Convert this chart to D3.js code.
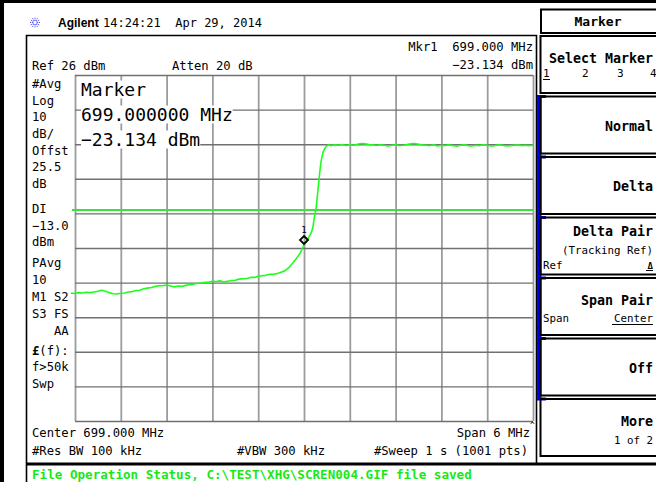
<!DOCTYPE html>
<html>
<head>
<meta charset="utf-8">
<script src="https://cdn.jsdelivr.net/npm/d3@7"></script>
<style>
  html, body { margin: 0; padding: 0; background: #fff; }
  svg { display: block; }
  text { font-family: "DejaVu Sans Mono", "Liberation Mono", monospace; fill: #000; }
</style>
</head>
<body>
<svg id="screen" width="656" height="482"></svg>
<script>
// ---- instrument settings ----
const centerMHz = 699.0;
const spanMHz = 6.0;
const refLevelDbm = 26;
const dbPerDiv = 10;
const vDivs = 10;
const hDivs = 10;
const displayLineDbm = -13.0;
const markerMHz = 699.000;
const markerDbm = -23.134;

// ---- averaged trace (dBm) ----
// lower band: 696.00 .. 699.00 MHz, 0.05 MHz apart
const bandStepMHz = 0.05;
const lowBandStartMHz = 696.00;
const lowBandDbm = [
  -37.1, -36.9, -37.0, -36.8, -36.9, -36.7, -36.5, -36.2, -36.5, -36.9,
  -37.2, -37.3, -37.1, -37.0, -36.7, -36.6, -36.3, -36.2, -35.8, -35.6,
  -35.4, -35.1, -34.9, -34.9, -34.7, -35.0, -35.2, -35.0, -35.1, -34.8,
  -34.6, -34.5, -34.2, -34.1, -33.9, -33.9, -33.6, -33.7, -33.5, -33.8,
  -33.6, -33.4, -33.3, -33.0, -32.9, -32.8, -32.5, -32.5, -32.2, -32.0,
  -31.9, -31.6, -31.6, -31.4, -31.0, -30.6, -29.7, -28.4, -27.0, -25.5,
  -23.134
];
// band edge
const edgeMHz = [699.02, 699.04, 699.06, 699.08, 699.10, 699.12, 699.13, 699.145,
                 699.16, 699.175, 699.19, 699.205, 699.22, 699.235, 699.25, 699.27,
                 699.29, 699.31, 699.33];
const edgeDbm = [-22.5, -21.9, -21.0, -20.2, -19.3, -17.6, -15.9, -14.0,
                 -12.2, -9.0, -5.8, -2.4, 0.5, 2.3, 3.7, 4.7,
                 5.3, 5.7, 5.8];
// upper band: 699.35 .. 702.00 MHz, 0.05 MHz apart
const highBandStartMHz = 699.35;
const highBandDbm = [
  5.6, 5.8, 5.7, 5.9, 5.6, 5.8, 5.7, 6.0, 6.2, 6.1,
  5.9, 5.8, 5.6, 5.8, 5.7, 5.5, 5.7, 5.8, 5.6, 5.7,
  5.9, 6.1, 6.2, 6.0, 5.8, 5.7, 5.6, 5.8, 5.5, 5.7,
  5.6, 5.8, 5.6, 5.4, 5.7, 5.8, 5.6, 5.5, 5.7, 5.6,
  5.8, 5.7, 5.5, 5.6, 5.8, 5.7, 5.5, 5.6, 5.7, 5.8,
  5.6, 5.7, 5.6, 5.7
];

// ---- annotation texts ----
const headerTime = "14:24:21  Apr 29, 2014";
const leftPanel = [
  "#Avg", "Log", "10", "dB/", "Offst", "25.5", "dB",
  "DI", "\u221213.0", "dBm",
  "PAvg", "10", "M1 S2", "S3 FS", "   AA", "(f):", "f>50k", "Swp"
];
const softkeys = [
  { title: "Select Marker" },
  { title: "Normal" },
  { title: "Delta" },
  { title: "Delta Pair", sub: "(Tracking Ref)" },
  { title: "Span Pair" },
  { title: "Off" },
  { title: "More", sub: "1 of 2" }
];
const statusLine = "File Operation Status, C:\\TEST\\XHG\\SCREN004.GIF file saved";

// ---- layout ----
const svg = d3.select("#screen");
const G = { left: 75, right: 533, top: 75, bottom: 421 };

const x = d3.scaleLinear()
  .domain([centerMHz - spanMHz / 2, centerMHz + spanMHz / 2])
  .range([G.left, G.right]);
const y = d3.scaleLinear()
  .domain([refLevelDbm - dbPerDiv * vDivs, refLevelDbm])
  .range([G.bottom, G.top]);

const xTicks = d3.range(hDivs + 1).map(i => x.domain()[0] + i * spanMHz / hDivs);
const yTicks = d3.range(vDivs + 1).map(i => y.domain()[0] + i * dbPerDiv);

// assemble the trace
const trace = [];
lowBandDbm.forEach((v, i) => trace.push([lowBandStartMHz + i * bandStepMHz, v]));
edgeMHz.forEach((f, i) => trace.push([f, edgeDbm[i]]));
highBandDbm.forEach((v, i) => trace.push([highBandStartMHz + i * bandStepMHz, v]));

// ---- frame ----
svg.append("rect").attr("x", 0).attr("y", 0).attr("width", 656).attr("height", 482).attr("fill", "#fff");
svg.append("rect").attr("x", 0).attr("y", 0).attr("width", 656).attr("height", 3).attr("fill", "#000");
svg.append("rect").attr("x", 0).attr("y", 0).attr("width", 4).attr("height", 482).attr("fill", "#000");

// display window outline
svg.append("path")
  .attr("d", "M26.5,482 V35.5 H536.5 V464")
  .attr("fill", "none").attr("stroke", "#000").attr("stroke-width", 1.6);
svg.append("rect").attr("x", 26).attr("y", 462.5).attr("width", 630).attr("height", 3).attr("fill", "#000");

// ---- header ----
const logo = svg.append("g").attr("transform", "translate(35,22.5)");
d3.range(12).forEach(k => {
  const a = k * Math.PI / 6;
  logo.append("line")
    .attr("x1", Math.cos(a) * 1.8).attr("y1", Math.sin(a) * 1.8)
    .attr("x2", Math.cos(a) * 5.2).attr("y2", Math.sin(a) * 5.2)
    .attr("stroke", "#2a2aff").attr("stroke-width", 1).attr("stroke-dasharray", "1,1");
});
svg.append("text").attr("x", 58).attr("y", 27)
  .style("font-family", "'Liberation Sans', Arial, sans-serif")
  .style("font-weight", "bold").style("font-size", "12px").text("Agilent");
svg.append("text").attr("x", 103).attr("y", 27).style("font-size", "12px")
  .attr("xml:space", "preserve").text(headerTime);

const fs = "12.2px";
svg.append("text").attr("x", 32).attr("y", 70).style("font-size", fs).text("Ref 26 dBm");
svg.append("text").attr("x", 172).attr("y", 70).style("font-size", fs).text("Atten 20 dB");
svg.append("text").attr("x", 533).attr("y", 51).attr("text-anchor", "end").style("font-size", fs)
  .attr("xml:space", "preserve").text("Mkr1  " + markerMHz.toFixed(3) + " MHz");
svg.append("text").attr("x", 533).attr("y", 69).attr("text-anchor", "end").style("font-size", fs)
  .text(d3.format(".3f")(markerDbm).replace("-", "\u2212") + " dBm");

// ---- left status column ----
const leftY = [83, 100, 116.7, 133.4, 150, 166.7, 183.4,
               208, 225, 241.7,
               262.3, 279, 296.7, 313.4, 330, 350, 366.7, 383.4];
leftPanel.forEach((t, i) => {
  const tx = svg.append("text").attr("x", 32).attr("y", leftY[i] + 4.5)
    .style("font-size", fs).attr("xml:space", "preserve");
  if (t === "(f):") {
    tx.append("tspan").style("font-weight", "bold").text("\u00a3");
    tx.append("tspan").text("(f):");
  } else {
    tx.text(t);
  }
});

// ---- graticule ----
const gridG = svg.append("g");
gridG.append("g")
  .attr("transform", `translate(0,${G.bottom})`)
  .call(d3.axisBottom(x).tickValues(xTicks).tickSize(-(G.bottom - G.top)).tickFormat(""))
  .call(g => g.select(".domain").remove())
  .call(g => g.selectAll(".tick line").attr("stroke", "#9c9c9c").attr("stroke-width", 1.8));
gridG.append("g")
  .attr("transform", `translate(${G.left},0)`)
  .call(d3.axisLeft(y).tickValues(yTicks).tickSize(-(G.right - G.left)).tickFormat(""))
  .call(g => g.select(".domain").remove())
  .call(g => g.selectAll(".tick line").attr("stroke", "#707070").attr("stroke-width", 1.4));

// display line
svg.append("line")
  .attr("x1", G.left - 3).attr("x2", G.right)
  .attr("y1", y(displayLineDbm)).attr("y2", y(displayLineDbm))
  .attr("stroke", "#3be23b").attr("stroke-width", 2);

// trace
svg.append("path")
  .datum(trace)
  .attr("d", d3.line().x(d => x(d[0])).y(d => y(d[1])))
  .attr("fill", "none").attr("stroke", "#1cff1c").attr("stroke-width", 1.6)
  .attr("stroke-linejoin", "round");
// start-of-trace tick on the left edge
svg.append("line")
  .attr("x1", G.left - 4).attr("x2", G.left)
  .attr("y1", y(lowBandDbm[0])).attr("y2", y(lowBandDbm[0]))
  .attr("stroke", "#1cff1c").attr("stroke-width", 1.6);

// marker 1
const mx = x(markerMHz), my = y(markerDbm);
svg.append("path")
  .attr("d", `M${mx},${my - 9} L${mx + 4},${my - 5} L${mx},${my - 1} L${mx - 4},${my - 5} Z`)
  .attr("fill", "none").attr("stroke", "#000").attr("stroke-width", 1.8);
svg.append("text").attr("x", mx).attr("y", my - 12).attr("text-anchor", "middle")
  .style("font-size", "9px").text("1");

// marker readout block with opaque background
const readout = [
  { t: "Marker", y: 95.5 },
  { t: markerMHz.toFixed(6) + " MHz", y: 120.5 },
  { t: d3.format(".3f")(markerDbm).replace("-", "\u2212") + " dBm", y: 145.5 }
];
readout.forEach(r => {
  const bg = svg.append("rect").attr("fill", "#fff");
  const t = svg.append("text").attr("x", 81).attr("y", r.y).style("font-size", "18px").text(r.t);
  const b = t.node().getBBox();
  bg.attr("x", b.x).attr("y", b.y + 2).attr("width", b.width).attr("height", b.height - 3);
});

// ---- footer annotations ----
svg.append("text").attr("x", 32).attr("y", 436.5).style("font-size", fs)
  .text("Center " + centerMHz.toFixed(3) + " MHz");
svg.append("text").attr("x", 530).attr("y", 436.5).attr("text-anchor", "end").style("font-size", fs)
  .text("Span " + spanMHz + " MHz");
svg.append("text").attr("x", 530).attr("y", 428).style("font-size", "8px").text("^");
svg.append("text").attr("x", 32).attr("y", 455).style("font-size", fs).text("#Res BW 100 kHz");
svg.append("text").attr("x", 237).attr("y", 455).style("font-size", fs).text("#VBW 300 kHz");
svg.append("text").attr("x", 528).attr("y", 455).attr("text-anchor", "end").style("font-size", fs)
  .text("#Sweep 1 s (1001 pts)");

svg.append("text").attr("x", 32).attr("y", 479).style("font-size", "12.6px")
  .style("font-weight", "bold").style("fill", "#17e817").text(statusLine);

// ---- softkey panel ----
svg.append("rect").attr("x", 541).attr("y", 9.5).attr("width", 130).attr("height", 23.5)
  .attr("fill", "none").attr("stroke", "#000").attr("stroke-width", 2);
svg.append("text").attr("x", 598).attr("y", 26).attr("text-anchor", "middle")
  .style("font-size", "13px").style("font-weight", "bold").text("Marker");

const keyTop = i => 36 + i * 60.5;
const keyH = 57;
svg.append("rect").attr("x", 537).attr("y", keyTop(1) - 1.5).attr("width", 4.5)
  .attr("height", keyTop(6) - keyTop(1) + 2).attr("fill", "#0000ee");
d3.range(1, 7).forEach(i => {
  svg.append("rect").attr("x", 537).attr("y", keyTop(i) - 1.5).attr("width", 9).attr("height", 3)
    .attr("fill", "#0000ee");
});
softkeys.forEach((k, i) => {
  const top = keyTop(i);
  svg.append("rect").attr("x", 540.5).attr("y", top).attr("width", 130).attr("height", keyH)
    .attr("fill", "none").attr("stroke", "#000").attr("stroke-width", 2);
  const hasSub = k.sub || i === 0 || i === 4;
  const ty = hasSub ? top + (i === 3 ? 14 : 22) : top + 29.7;
  svg.append("text").attr("x", 653).attr("y", ty + 4.7).attr("text-anchor", "end")
    .style("font-size", "13.3px").style("font-weight", "bold").text(k.title);
  if (k.sub) {
    svg.append("text").attr("x", 653).attr("y", ty + 18.5 + 4).attr("text-anchor", "end")
      .style("font-size", "10.8px").text(k.sub);
  }
});
// Select Marker: marker numbers
const selTop = keyTop(0);
[["1", 543], ["2", 582], ["3", 617], ["4", 650]].forEach(([n, px]) => {
  svg.append("text").attr("x", px).attr("y", selTop + 41).style("font-size", "11px").text(n);
});
svg.append("line").attr("x1", 543).attr("x2", 550).attr("y1", selTop + 43.5).attr("y2", selTop + 43.5)
  .attr("stroke", "#000").attr("stroke-width", 1);
// Delta Pair: Ref / delta
const dpTop = keyTop(3);
svg.append("text").attr("x", 543).attr("y", dpTop + 51).style("font-size", "10.8px").text("Ref");
svg.append("text").attr("x", 653).attr("y", dpTop + 51).attr("text-anchor", "end")
  .style("font-size", "9px").style("font-weight", "bold").text("\u0394");
svg.append("line").attr("x1", 646).attr("x2", 653).attr("y1", dpTop + 53).attr("y2", dpTop + 53)
  .attr("stroke", "#000").attr("stroke-width", 1);
// Span Pair: Span / Center
const spTop = keyTop(4);
svg.append("text").attr("x", 543).attr("y", spTop + 44).style("font-size", "10.8px").text("Span");
svg.append("text").attr("x", 653).attr("y", spTop + 44).attr("text-anchor", "end")
  .style("font-size", "10.8px").text("Center");
svg.append("line").attr("x1", 612).attr("x2", 653).attr("y1", spTop + 46.5).attr("y2", spTop + 46.5)
  .attr("stroke", "#000").attr("stroke-width", 1);
</script>
</body>
</html>
